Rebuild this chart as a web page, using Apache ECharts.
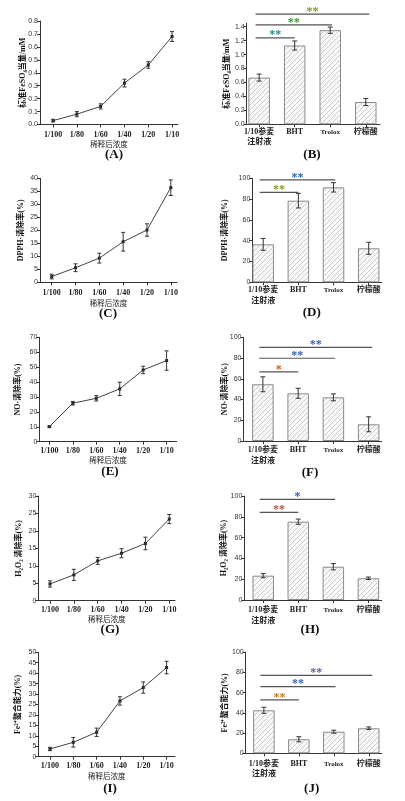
<!DOCTYPE html>
<html>
<head>
<meta charset="utf-8">
<script src="https://cdn.jsdelivr.net/npm/echarts@6/dist/echarts.min.js"></script>
<style>
html, body { margin: 0; padding: 0; background: #fff; }
#main { width: 405px; height: 801px; }
</style>
</head>
<body>
<div id="main"></div>
<script>
// 稀释浓度 / 样品
var concLabels = ['1/100', '1/80', '1/60', '1/40', '1/20', '1/10'];
var sampleLabels = ['1/10参麦\n注射液', 'BHT', 'Trolox', '柠檬酸'];

// (A)(B) 标准FeSO4当量
var feso4Conc = [0.03, 0.08, 0.14, 0.32, 0.46, 0.68];
var feso4ConcErr = [0.01, 0.02, 0.02, 0.03, 0.025, 0.038];
var feso4Sample = [0.67, 1.13, 1.35, 0.32];
var feso4SampleErr = [0.05, 0.065, 0.045, 0.05];
var feso4Sig = ['**', '**', '**'];

// (C)(D) DPPH·清除率
var dpphConc = [2.2, 5.6, 9.3, 15.6, 20.1, 36.4];
var dpphConcErr = [0.9, 1.5, 1.9, 3.6, 2.4, 3.0];
var dpphSample = [36.5, 78.5, 91.3, 32.7];
var dpphSampleErr = [5.7, 7, 4.5, 5.8];
var dpphSig = ['**', '**'];

// (E)(F) NO·清除率
var noConc = [10.1, 25.8, 29.1, 35.4, 48.1, 54.4];
var noConcErr = [0.6, 1.2, 1.8, 4.5, 2.5, 6.5];
var noSample = [54.7, 46, 42.1, 16.1];
var noSampleErr = [7.2, 4.8, 3.3, 7.2];
var noSig = ['*', '**', '**'];

// (G)(H) H2O2 清除率
var h2o2Conc = [4.8, 7.4, 11.4, 13.6, 16.4, 23.4];
var h2o2ConcErr = [0.9, 1.6, 1.0, 1.3, 1.8, 1.3];
var h2o2Sample = [23.4, 75.3, 32, 20.9];
var h2o2SampleErr = [2, 2.5, 3, 1.2];
var h2o2Sig = ['**', '*'];

// (I)(J) Fe2+螯合能力
var feConc = [3.7, 6.9, 11.7, 26.7, 33.1, 42.7];
var feConcErr = [0.8, 2.3, 2, 2, 2.7, 3];
var feSample = [42.6, 13.9, 21.4, 24.8];
var feSampleErr = [3, 2.5, 1.5, 1.3];
var feSig = ['**', '**', '**'];

var serif = "'Liberation Serif', 'Noto Sans CJK SC', serif";
var sans = "'Liberation Sans', Arial, sans-serif";
var cjk = "'Noto Sans CJK SC', sans-serif";
var ink = '#333';

function hatchCanvas() {
  var c = document.createElement('canvas');
  c.width = c.height = 5;
  var g = c.getContext('2d');
  g.fillStyle = '#f8f8f8';
  g.fillRect(0, 0, 5, 5);
  g.strokeStyle = '#bcbcbc';
  g.lineWidth = 0.7;
  g.beginPath();
  g.moveTo(-1, 6); g.lineTo(6, -1);
  g.moveTo(-1, 1); g.lineTo(1, -1);
  g.moveTo(4, 6); g.lineTo(6, 4);
  g.stroke();
  return c;
}
var hatch = hatchCanvas();

var grids = [], xAxes = [], yAxes = [], series = [], graphics = [];

function errorSeries(gi, vals, errs, cap) {
  return {
    type: 'custom', xAxisIndex: gi, yAxisIndex: gi, silent: true, z: 5,
    data: vals.map(function (v, i) { return [i, v, errs[i]]; }),
    encode: { x: 0, y: 1 },
    renderItem: function (params, api) {
      var x = api.value(0), y = api.value(1), e = api.value(2);
      var hi = api.coord([x, y + e]), lo = api.coord([x, y - e]);
      var st = { stroke: '#333', lineWidth: 1 };
      return { type: 'group', children: [
        { type: 'line', shape: { x1: hi[0], y1: hi[1], x2: lo[0], y2: lo[1] }, style: st },
        { type: 'line', shape: { x1: hi[0] - cap, y1: hi[1], x2: hi[0] + cap, y2: hi[1] }, style: st },
        { type: 'line', shape: { x1: lo[0] - cap, y1: lo[1], x2: lo[0] + cap, y2: lo[1] }, style: st }
      ] };
    }
  };
}

function bracketSeries(gi, x0, x1, level, text, color) {
  return {
    type: 'custom', xAxisIndex: gi, yAxisIndex: gi, silent: true, clip: false, z: 6,
    data: [[x0, level, x1]],
    encode: { x: [0, 2], y: 1 },
    renderItem: function (params, api) {
      var p0 = api.coord([api.value(0), api.value(1)]);
      var p1 = api.coord([api.value(2), api.value(1)]);
      return { type: 'group', children: [
        { type: 'line', shape: { x1: p0[0], y1: p0[1], x2: p1[0], y2: p1[1] }, style: { stroke: '#555', lineWidth: 1.2 } },
        { type: 'text', x: (p0[0] + p1[0]) / 2, y: p0[1] - 2.5,
          style: { text: text, fill: color, font: 'bold 12px ' + serif, align: 'center', verticalAlign: 'middle' } }
      ] };
    }
  };
}

function yAxisFor(gi, p) {
  var even = Math.abs(Math.round(p.max / p.step) * p.step - p.max) < 1e-9;
  return {
    gridIndex: gi, type: 'value', min: 0, max: p.max, interval: p.step,
    axisLine: { show: true, onZero: false, lineStyle: { color: ink, width: 1 } },
    axisTick: { show: true, length: 3, lineStyle: { color: ink } },
    axisLabel: { fontSize: 7, fontFamily: sans, color: '#333', margin: 2, showMaxLabel: even,
      formatter: function (v) { return v.toFixed(p.dec); } },
    splitLine: { show: false },
    name: p.name, nameLocation: 'middle', nameRotate: 90, nameGap: p.nameGap, nameMoveOverlap: false,
    nameTextStyle: { fontFamily: serif, fontWeight: 'bold', fontSize: 8, color: '#111' }
  };
}

function addPanel(p, isBar) {
  var gi = grids.length;
  grids.push({ left: p.box[0], top: p.box[1], width: p.box[2], height: p.box[3], containLabel: false, outerBoundsMode: 'none' });
  var labels = isBar ? sampleLabels : concLabels;
  var idx = labels.map(function (_, i) { return i; });
  var xa = {
    gridIndex: gi, type: 'value', min: p.xr[0], max: p.xr[1],
    axisLine: { show: true, onZero: false, lineStyle: { color: ink, width: 1 } },
    axisTick: { show: true, customValues: idx, length: 3, lineStyle: { color: ink } },
    axisLabel: { customValues: idx, fontFamily: serif, fontWeight: 'bold', fontSize: 8, color: '#222',
      margin: p.margin, lineHeight: p.lh || 10,
      formatter: function (v) { var s = labels[Math.round(v)]; return s === 'Trolox' ? '{t|Trolox}' : s; },
      rich: { t: { fontFamily: serif, fontWeight: 'bold', fontSize: 7, color: '#222' } } },
    splitLine: { show: false }
  };
  if (!isBar) {
    xa.name = '稀释后浓度';
    xa.nameLocation = 'middle';
    xa.nameGap = p.titleGap;
    xa.nameMoveOverlap = false;
    xa.nameTextStyle = { fontFamily: cjk, fontSize: 7.5, color: '#222' };
  }
  xAxes.push(xa);
  yAxes.push(yAxisFor(gi, p));

  if (isBar) {
    series.push({
      type: 'bar', xAxisIndex: gi, yAxisIndex: gi, silent: true, barWidth: 21.5,
      data: p.vals.map(function (v, i) { return [i, v]; }),
      itemStyle: { color: { image: hatch, repeat: 'repeat' }, borderColor: '#8a8a8a', borderWidth: 1 }
    });
    series.push(errorSeries(gi, p.vals, p.errs, 2.5));
    p.sig.forEach(function (s, k) {
      var target = k + 1;
      series.push(bracketSeries(gi, -0.1, target + (target - 1) * 0.05, p.levels[k], s, p.colors[k]));
    });
  } else {
    series.push({
      type: 'line', xAxisIndex: gi, yAxisIndex: gi, silent: true,
      data: p.vals.map(function (v, i) { return [i, v]; }),
      symbol: 'rect', symbolSize: 3, itemStyle: { color: '#222' },
      lineStyle: { color: '#444', width: 1 }
    });
    series.push(errorSeries(gi, p.vals, p.errs, 2));
  }
  graphics.push({ type: 'text', x: p.tag[0], y: p.tag[1], silent: true,
    style: { text: p.letter, font: 'bold 13px ' + serif, fill: '#111', align: 'center', verticalAlign: 'middle' } });
}

var linePanels = [
  { letter: '(A)', vals: feso4Conc, errs: feso4ConcErr, name: '标准FeSO₄当量/mM', max: 0.8, step: 0.1, dec: 1,
    box: [40, 21, 138, 103.5], xr: [-0.55, 5.25], nameGap: 13.5, margin: 5, titleGap: 16, tag: [114, 155] },
  { letter: '(C)', vals: dpphConc, errs: dpphConcErr, name: 'DPPH·清除率(%)', max: 40, step: 5, dec: 0,
    box: [40, 178.3, 137, 104], xr: [-0.49, 5.26], nameGap: 15, margin: 6, titleGap: 17, tag: [108, 313.3] },
  { letter: '(E)', vals: noConc, errs: noConcErr, name: 'NO·清除率(%)', max: 70, step: 10, dec: 0,
    box: [39.3, 337.3, 137.4, 104.4], xr: [-0.43, 5.43], nameGap: 17, margin: 4, titleGap: 15, tag: [110, 471.7] },
  { letter: '(G)', vals: h2o2Conc, errs: h2o2ConcErr, name: 'H₂O₂ 清除率(%)', max: 30, step: 5, dec: 0,
    box: [38.3, 496, 136.7, 104.7], xr: [-0.49, 5.24], nameGap: 15, margin: 4, titleGap: 15, tag: [110, 630] },
  { letter: '(I)', vals: feConc, errs: feConcErr, name: 'Fe²⁺螯合能力(%)', max: 50, step: 5, dec: 0,
    box: [38.3, 652.3, 136.7, 104.4], xr: [-0.5, 5.36], nameGap: 16, margin: 4, titleGap: 15.5, tag: [110, 788.3] }
];

var barPanels = [
  { letter: '(B)', vals: feso4Sample, errs: feso4SampleErr, sig: feso4Sig, name: '标准FeSO₄当量/mM', max: 1.45, step: 0.2, dec: 1,
    box: [246.7, 23.2, 133.3, 101.1], xr: [-0.35, 3.4], nameGap: 15.5, margin: 3, lh: 10, tag: [312, 155],
    levels: [1.24, 1.425, 1.58], colors: ['#2b8a80', '#3f8f3a', '#7a9a22'] },
  { letter: '(D)', vals: dpphSample, errs: dpphSampleErr, sig: dpphSig, name: 'DPPH·清除率(%)', max: 100, step: 20, dec: 0,
    box: [252.3, 178.3, 129.4, 104], xr: [-0.31, 3.37], nameGap: 23, margin: 2, lh: 11, tag: [311.7, 312.7],
    levels: [86.5, 98.4], colors: ['#8a9a1e', '#2d68a8'] },
  { letter: '(F)', vals: noSample, errs: noSampleErr, sig: noSig, name: 'NO·清除率(%)', max: 100, step: 20, dec: 0,
    box: [243.5, 337.3, 138.2, 103.7], xr: [-0.55, 3.37], nameGap: 15, margin: 4, lh: 10.7, tag: [310, 472.7],
    levels: [66.6, 79.8, 90.3], colors: ['#d2571e', '#2f5fb0', '#3a5cae'] },
  { letter: '(H)', vals: h2o2Sample, errs: h2o2SampleErr, sig: h2o2Sig, name: 'H₂O₂ 清除率(%)', max: 100, step: 20, dec: 0,
    box: [244.3, 496, 137.4, 104], xr: [-0.54, 3.38], nameGap: 16, margin: 5, lh: 10.7, tag: [310, 630],
    levels: [84.3, 96.8], colors: ['#b0583a', '#3558b0'] },
  { letter: '(J)', vals: feSample, errs: feSampleErr, sig: feSig, name: 'Fe²⁺螯合能力(%)', max: 100, step: 20, dec: 0,
    box: [245.7, 652.3, 136, 101], xr: [-0.52, 3.37], nameGap: 17, margin: 6, lh: 10, tag: [311.7, 788.3],
    levels: [52.8, 66.0, 77.2], colors: ['#c47a1e', '#3466b0', '#5a62a0'] }
];

linePanels.forEach(function (p) { addPanel(p, false); });
barPanels.forEach(function (p) { addPanel(p, true); });

var chart = echarts.init(document.getElementById('main'), null, { renderer: 'canvas' });
chart.setOption({
  animation: false,
  backgroundColor: '#fff',
  grid: grids,
  xAxis: xAxes,
  yAxis: yAxes,
  series: series,
  graphic: graphics
});
</script>
</body>
</html>
